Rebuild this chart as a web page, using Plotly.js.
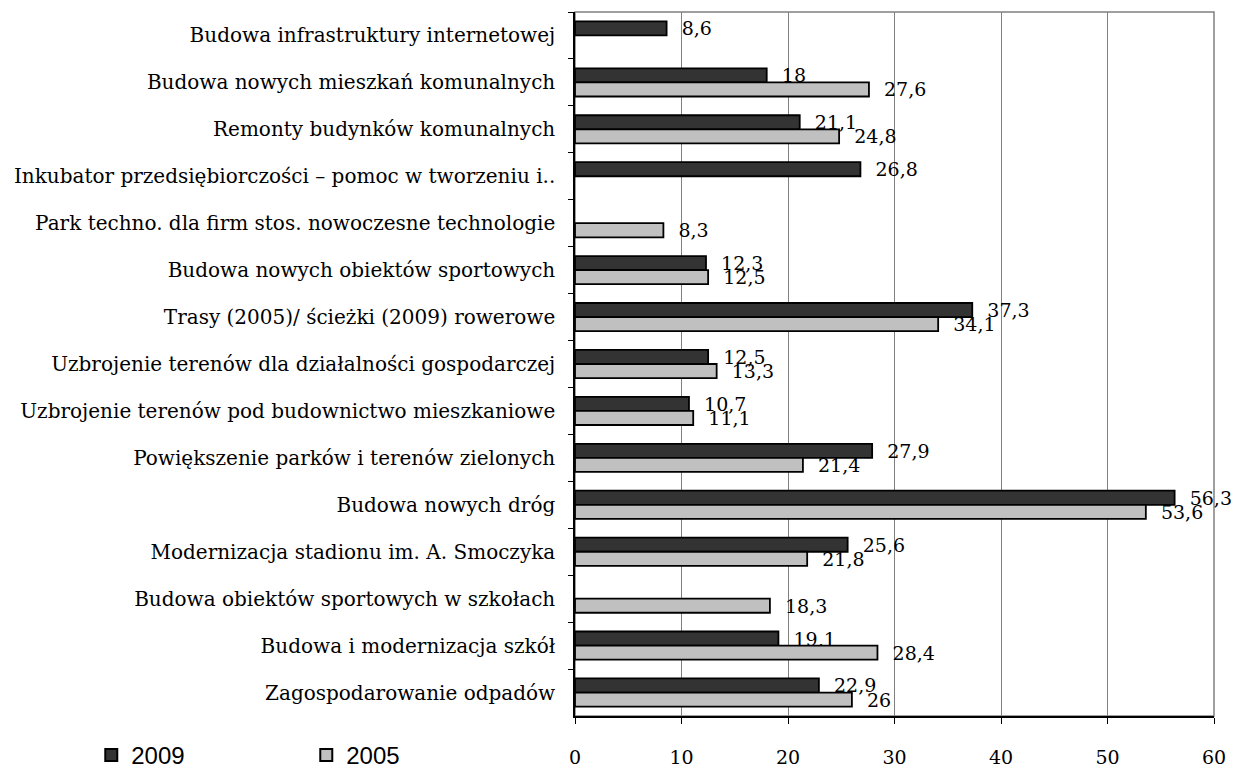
<!DOCTYPE html>
<html>
<head>
<meta charset="utf-8">
<script src="https://cdn.plot.ly/plotly-3.0.1.min.js"></script>
<style>html,body{margin:0;padding:0;background:#fff;}#chart{width:1239px;height:771px;}</style>
</head>
<body>
<div id="chart"></div>
<script>
const categories = [
  "Budowa infrastruktury internetowej",
  "Budowa nowych mieszkań komunalnych",
  "Remonty budynków komunalnych",
  "Inkubator przedsiębiorczości – pomoc w tworzeniu i..",
  "Park techno. dla firm stos. nowoczesne technologie",
  "Budowa nowych obiektów sportowych",
  "Trasy (2005)/ ścieżki (2009) rowerowe",
  "Uzbrojenie terenów dla działalności gospodarczej",
  "Uzbrojenie terenów pod budownictwo mieszkaniowe",
  "Powiększenie parków i terenów zielonych",
  "Budowa nowych dróg",
  "Modernizacja stadionu im. A. Smoczyka",
  "Budowa obiektów sportowych w szkołach",
  "Budowa i modernizacja szkół",
  "Zagospodarowanie odpadów"
];
const values2009 = [8.6, 18, 21.1, 26.8, null, 12.3, 37.3, 12.5, 10.7, 27.9, 56.3, 25.6, null, 19.1, 22.9];
const values2005 = [null, 27.6, 24.8, null, 8.3, 12.5, 34.1, 13.3, 11.1, 21.4, 53.6, 21.8, 18.3, 28.4, 26];
const seriesNames = ["2009", "2005"];
const xTicks = [0, 10, 20, 30, 40, 50, 60];

const fmt = v => (v === null ? "" : "\u00a0\u00a0" + String(v).replace(".", ","));
const serif = "DejaVu Serif, serif";

function makeTrace(name, vals, color) {
  return {
    type: "bar",
    orientation: "h",
    name: name,
    y: categories,
    x: vals,
    text: vals.map(fmt),
    textposition: "outside",
    constraintext: "none",
    cliponaxis: false,
    textfont: {family: serif, size: 19, color: "#000"},
    marker: {color: color, line: {color: "#000", width: 1.8}},
    hoverinfo: "x+y"
  };
}

const data = [
  makeTrace(seriesNames[0], values2009, "#333333"),
  makeTrace(seriesNames[1], values2005, "#c0c0c0")
];

const layout = {
  width: 1239,
  height: 771,
  margin: {l: 575, r: 25, t: 12, b: 55, autoexpand: false},
  paper_bgcolor: "#fff",
  plot_bgcolor: "#fff",
  barmode: "group",
  bargap: 0.4,
  bargroupgap: 0,
  separators: ", ",
  font: {family: serif, size: 18, color: "#000"},
  xaxis: {
    range: [0, 60],
    automargin: false,
    tickvals: xTicks,
    ticktext: xTicks.map(String),
    showgrid: true,
    gridcolor: "#808080",
    gridwidth: 1,
    zeroline: false,
    showline: true,
    linecolor: "#000",
    linewidth: 1.5,
    ticks: "outside",
    ticklen: 6,
    tickcolor: "#000",
    ticklabelstandoff: 17,
    tickfont: {family: serif, size: 19, color: "#000"}
  },
  yaxis: {
    autorange: "reversed",
    automargin: false,
    type: "category",
    showgrid: false,
    zeroline: false,
    showline: true,
    linecolor: "#000",
    linewidth: 1.5,
    ticks: "outside",
    tickson: "boundaries",
    ticklen: 5,
    tickcolor: "#000",
    ticklabelstandoff: 14,
    tickfont: {family: serif, size: 20, color: "#000"}
  },
  shapes: [{
    type: "rect", xref: "paper", yref: "paper", x0: 0, x1: 1, y0: 0, y1: 1,
    line: {color: "#808080", width: 1.5}, layer: "below"
  }],
  showlegend: true,
  legend: {
    orientation: "h",
    x: -0.757,
    xanchor: "left",
    y: -0.056,
    yanchor: "middle",
    entrywidth: 170,
    entrywidthmode: "pixels",
    font: {family: "Liberation Sans, Arial, sans-serif", size: 24, color: "#000"},
    itemsizing: "constant",
    traceorder: "normal",
    bgcolor: "rgba(0,0,0,0)"
  }
};

Plotly.newPlot("chart", data, layout, {displayModeBar: false, responsive: false});
</script>
</body>
</html>
